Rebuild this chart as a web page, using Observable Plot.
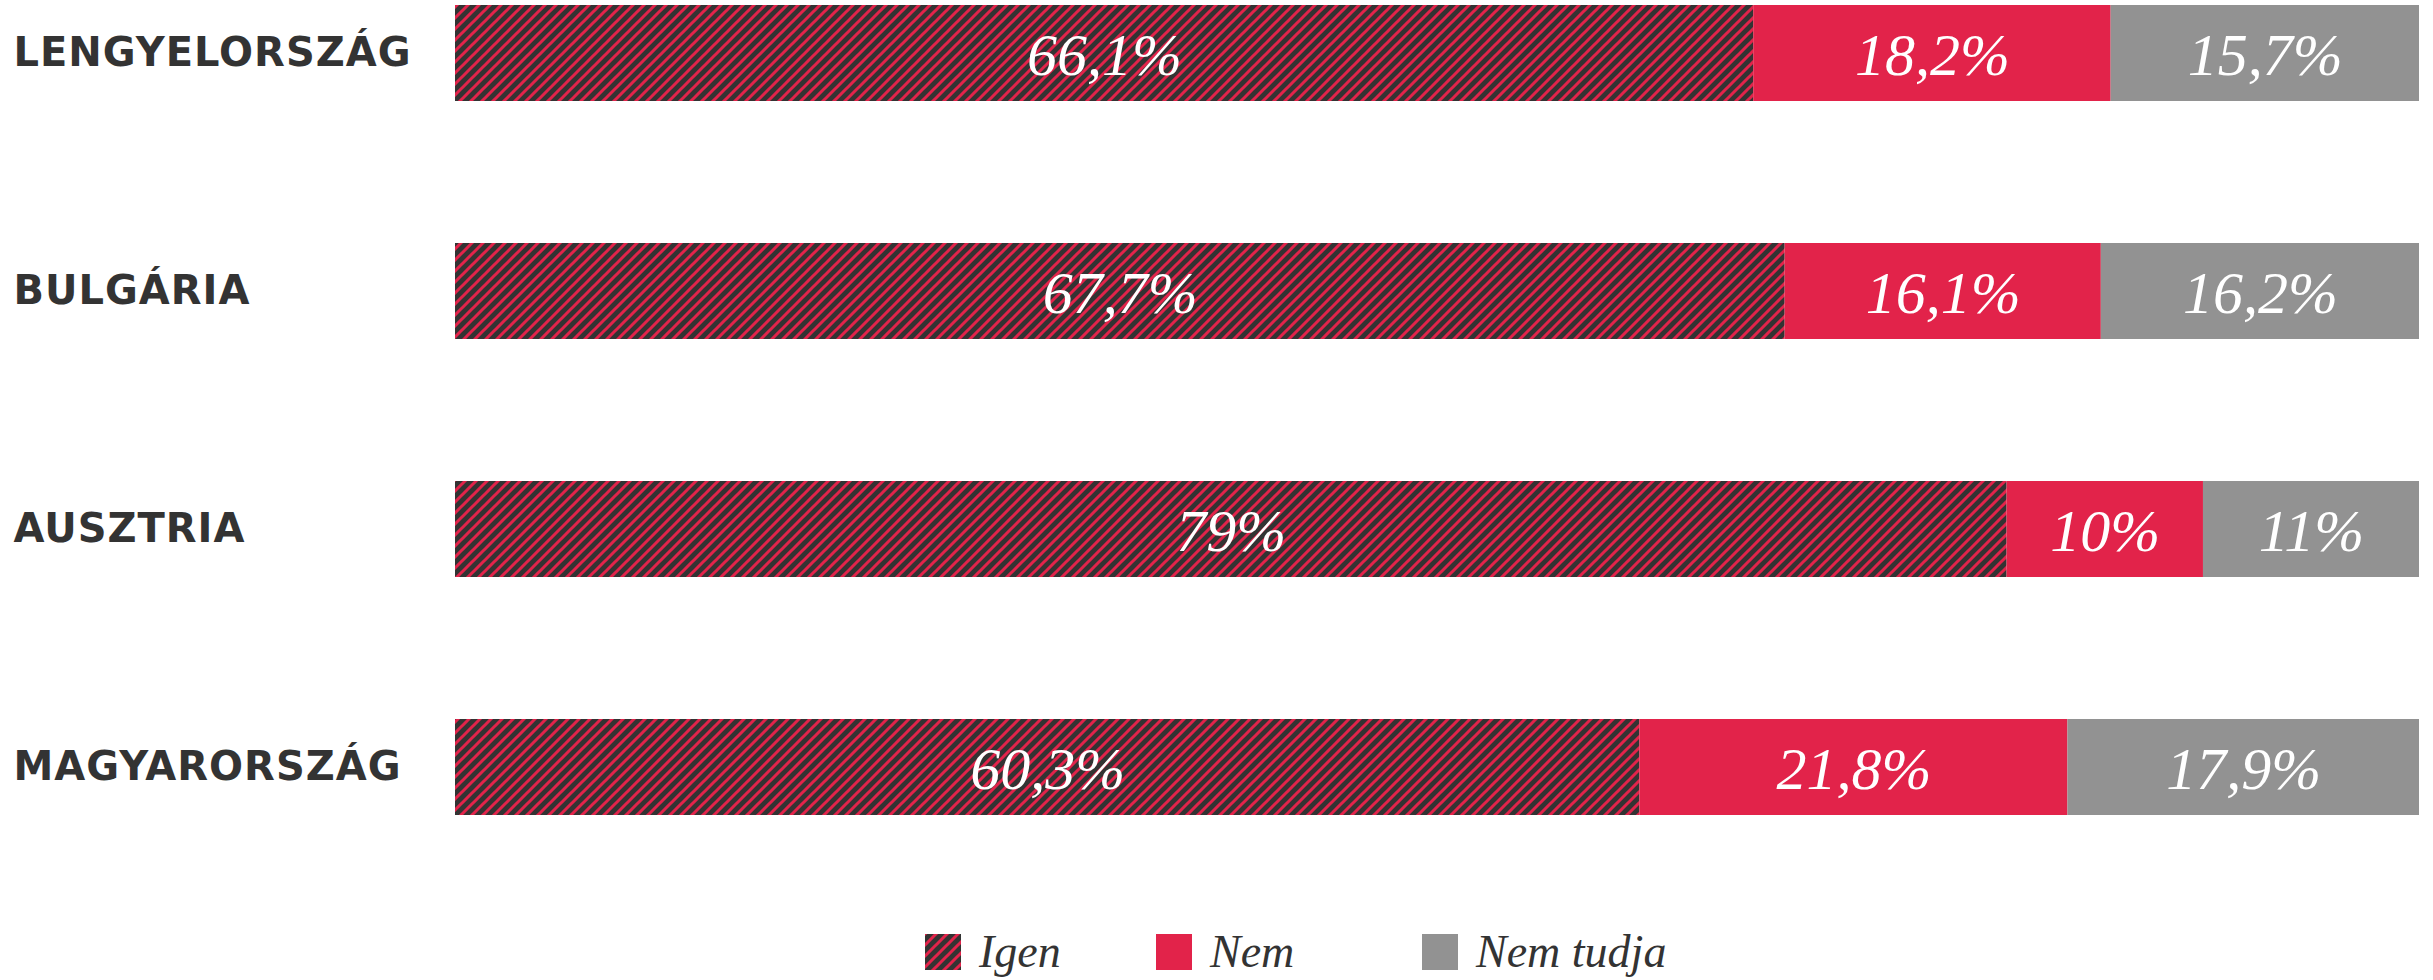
<!DOCTYPE html>
<html>
<head>
<meta charset="utf-8">
<script src="https://cdn.jsdelivr.net/npm/d3@7"></script>
<script src="https://cdn.jsdelivr.net/npm/@observablehq/plot@0.6"></script>
<style>
  body { margin: 0; background: #fff; }
  #wrap { position: relative; width: 2433px; height: 980px; }
  #legend { position: absolute; left: 0; top: 929px; width: 2433px; height: 48px; }
  .item { position: absolute; top: 0; display: flex; align-items: center; height: 46px; }
  .item svg { display: block; }
  .item span { font-family: "Liberation Serif", serif; font-style: italic; font-size: 46px; color: #333; margin-left: 18px; line-height: 46px; }
</style>
</head>
<body>
<div id="wrap">
  <div id="chart"></div>
  <div id="legend"></div>
</div>
<script>
const countries = ["LENGYELORSZÁG", "BULGÁRIA", "AUSZTRIA", "MAGYARORSZÁG"];
const answers = ["Igen", "Nem", "Nem tudja"];
const igen = [66.1, 67.7, 79, 60.3];
const nem = [18.2, 16.1, 10, 21.8];
const nemTudja = [15.7, 16.2, 11, 17.9];
const colors = ["url(#hatch)", "#e2234a", "#929292"];

const series = [igen, nem, nemTudja];
const rows = [];
countries.forEach((c, i) => {
  answers.forEach((a, j) => rows.push({country: c, answer: a, value: series[j][i]}));
});
const fmt = v => String(v).replace(".", ",") + "%";

const chart = Plot.plot({
  width: 2433,
  height: 928,
  marginLeft: 455,
  marginRight: 14,
  marginTop: 0,
  marginBottom: 108,
  x: {domain: [0, 100], axis: null},
  y: {domain: countries, axis: null, paddingInner: 0.597, paddingOuter: 0.021},
  color: {domain: answers, range: colors},
  marks: [
    Plot.barX(rows, Plot.stackX({x: "value", y: "country", fill: "answer", order: null, inset: 0})),
    Plot.text(rows, Plot.stackX({
      x: "value", y: "country", z: "answer", order: null,
      text: d => fmt(d.value),
      fill: "white",
      fontFamily: "Liberation Serif",
      fontStyle: "italic",
      fontSize: 60,
      lineAnchor: "middle",
      dy: 2
    })),
    Plot.text(countries, {
      y: d => d,
      text: d => d,
      frameAnchor: "left",
      dx: -442,
      textAnchor: "start",
      fill: "#333",
      fontFamily: "DejaVu Sans",
      fontWeight: "bold",
      fontSize: 40,
      lineAnchor: "middle"
    })
  ]
});

const patternDef = `
  <pattern id="hatch" patternUnits="userSpaceOnUse" width="11" height="11">
    <rect width="11" height="11" fill="#333333"></rect>
    <path d="M-2,2 L2,-2 M0,11 L11,0 M9,13 L13,9" stroke="#e2234a" stroke-width="3"></path>
  </pattern>`;
d3.select(chart).insert("defs", ":first-child").html(patternDef);
d3.select(chart).selectAll("text").filter(function() { return this.textContent && countries.includes(this.textContent); })
  .style("letter-spacing", "1px");
document.getElementById("chart").appendChild(chart);

const legendPos = [925, 1156, 1422];
const legend = document.getElementById("legend");
answers.forEach((a, j) => {
  const item = document.createElement("div");
  item.className = "item";
  item.style.left = legendPos[j] + "px";
  item.innerHTML = `<svg width="36" height="36"><rect width="36" height="36" fill="${colors[j]}"></rect></svg><span>${a}</span>`;
  legend.appendChild(item);
});
</script>
</body>
</html>
